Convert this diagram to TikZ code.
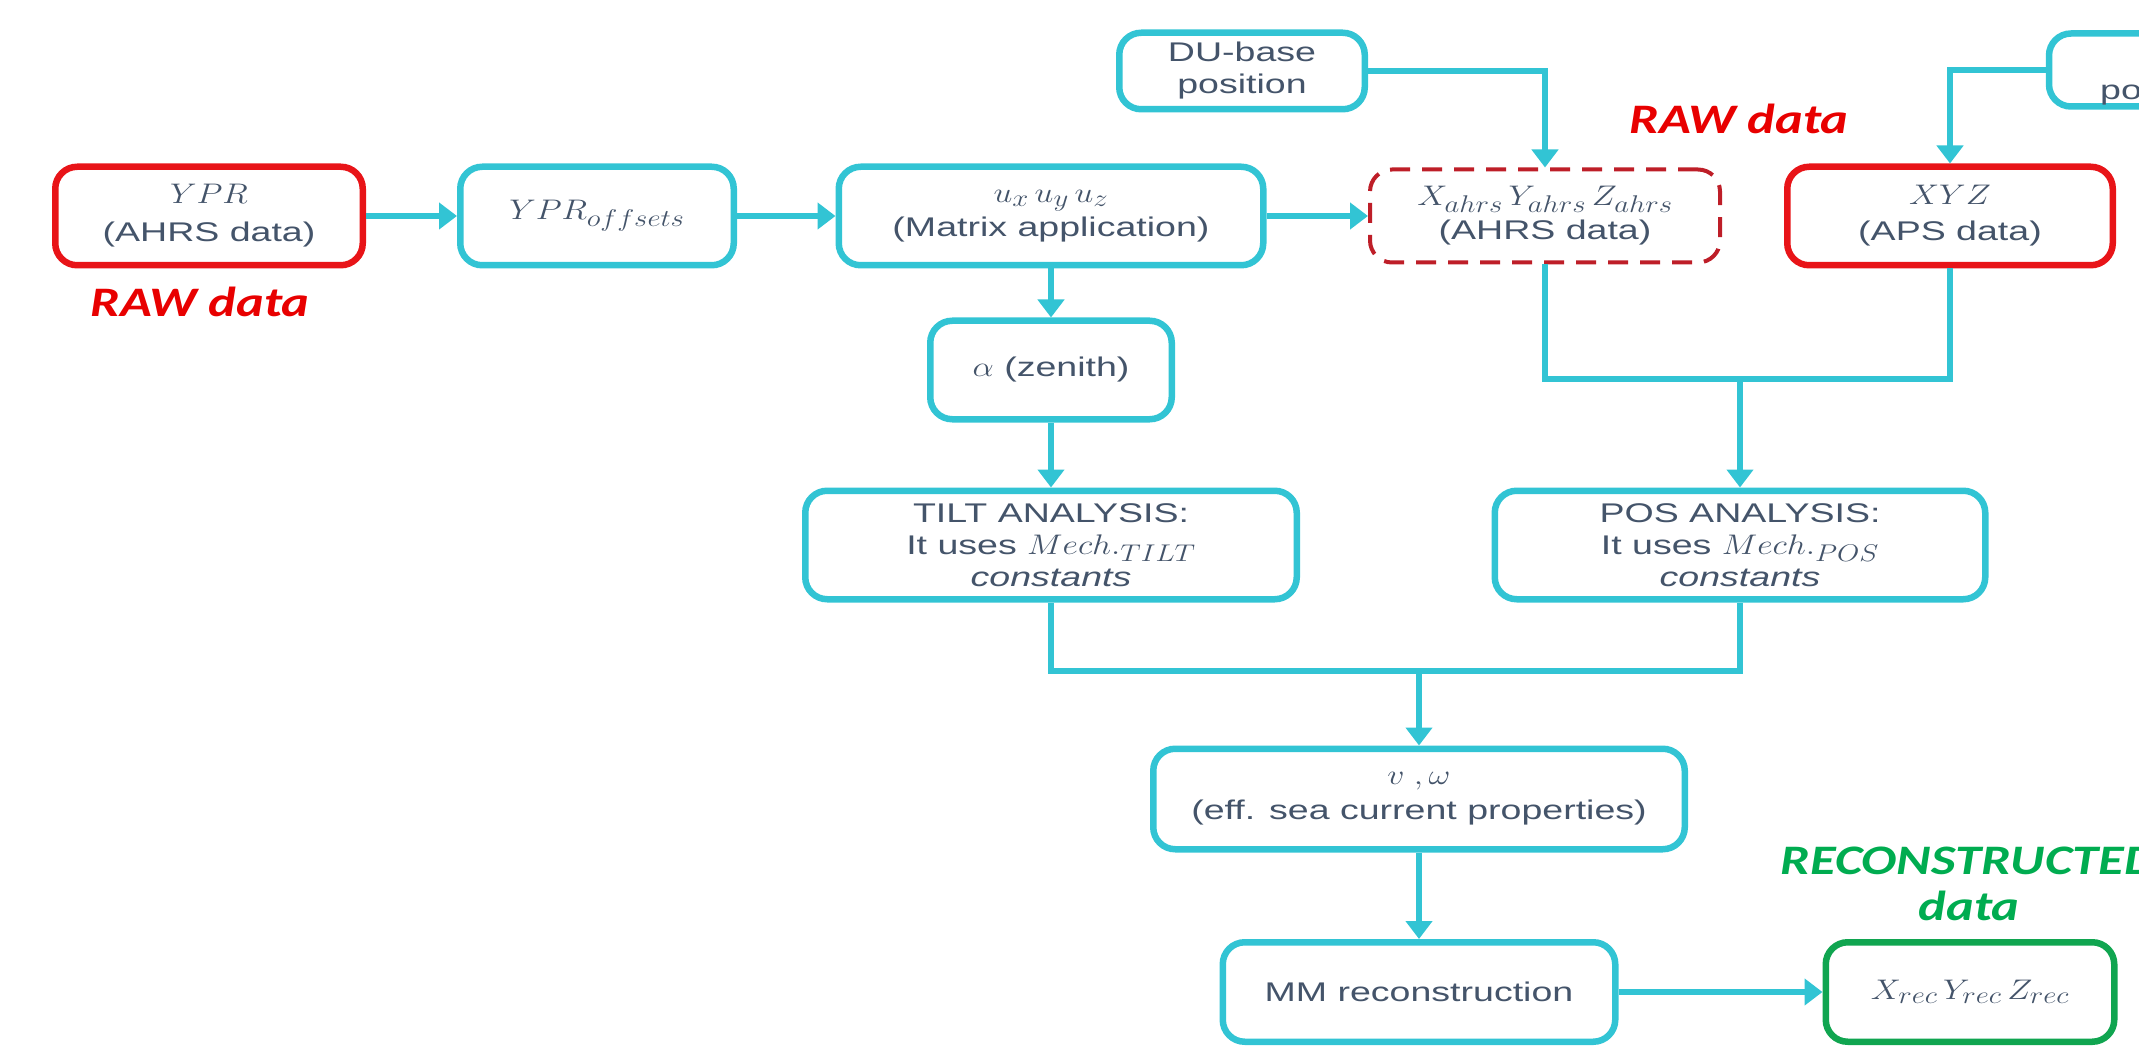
\RequirePackage{fix-cm}
\documentclass[tikz,border=0pt]{standalone}
\usepackage{fontspec}
\usepackage{graphicx}
\setmainfont[FakeStretch=1.39]{Liberation Sans}
\newfontfamily\calfont[FakeStretch=1.25]{Carlito}
\DeclareMathSizes{27}{27}{23}{18}
\usetikzlibrary{arrows.meta}
\definecolor{cyanc}{RGB}{50,196,212}
\definecolor{redb}{RGB}{232,20,24}
\definecolor{dred}{RGB}{190,30,40}
\definecolor{greenb}{RGB}{16,165,80}
\definecolor{greent}{RGB}{0,172,80}
\definecolor{txt}{RGB}{68,84,106}
\definecolor{rawred}{RGB}{232,0,0}
\newcommand\mx[1]{\scalebox{1.25}[1.05]{$#1$}}
\begin{document}
\begin{tikzpicture}[x=1pt,y=-1pt,
  box/.style={draw=cyanc,line width=6.5pt,rounded corners=22pt,fill=white,align=center,
    text=txt,inner sep=0pt,font=\fontsize{27}{36}\selectfont},
  redbox/.style={box,draw=redb},
  greenbox/.style={box,draw=greenb},
  dashbox/.style={box,draw=dred,line width=4pt,dash pattern=on 20pt off 12pt},
  conn/.style={draw=cyanc,line width=6pt},
  arr/.style={conn,-{Triangle[length=18pt,width=26pt]}},
  lbl/.style={font=\calfont\bfseries\itshape\fontsize{42}{46}\selectfont,align=center,inner sep=0pt},
]
\useasboundingbox (0,0) rectangle (2139,1048);
\clip (0,0) rectangle (2139,1048);

\node[redbox,minimum width=307.5pt,minimum height=98.5pt,font=\fontsize{27}{38}\selectfont] (ypr) at (209,216) {\mx{YPR}\\(AHRS data)};
\node[box,minimum width=273.5pt,minimum height=98.5pt] (off) at (597,216) {\mx{YPR_{offsets}}};
\node[box,minimum width=424.5pt,minimum height=98.5pt,font=\fontsize{27}{34}\selectfont] (u) at (1051,216) {\mx{u_x\,u_y\,u_z}\\(Matrix application)};
\node[dashbox,minimum width=350pt,minimum height=93pt,font=\fontsize{27}{34}\selectfont] (ahrs) at (1545,216) {\mx{X_{ahrs}\,Y_{ahrs}\,Z_{ahrs}}\\(AHRS data)};
\node[redbox,minimum width=325.5pt,minimum height=98.5pt,font=\fontsize{27}{36}\selectfont] (xyz) at (1950,216) {\mx{XYZ}\\(APS data)};
\node[box,minimum width=245.5pt,minimum height=76.5pt,font=\fontsize{27}{32}\selectfont] (du) at (1242,71) {DU-base\\position};
\node[box,minimum width=300pt,minimum height=73pt] (tr) at (2199,70) {};
\node[text=txt,anchor=base west,inner sep=0pt,font=\fontsize{27}{32}\selectfont] (trt) at (2100,100) {position};
\node[box,minimum width=241.5pt,minimum height=98.5pt] (alpha) at (1051,370) {\mx{\alpha} (zenith)};
\node[box,minimum width=491.5pt,minimum height=108.5pt,font=\fontsize{27}{32}\selectfont] (tilt) at (1051,545) {TILT ANALYSIS:\\It uses \mx{Mech._{TILT}}\\{\itshape constants}};
\node[box,minimum width=490.5pt,minimum height=108.5pt,font=\fontsize{27}{32}\selectfont] (pos) at (1740,545) {POS ANALYSIS:\\It uses \mx{Mech._{POS}}\\{\itshape constants}};
\node[box,minimum width=531.5pt,minimum height=100.5pt,font=\fontsize{27}{35}\selectfont] (v) at (1419,799) {\mx{v\;,\omega}\\(eff. sea current properties)};
\node[box,minimum width=392.5pt,minimum height=99.5pt] (mm) at (1419,992) {MM reconstruction};
\node[greenbox,minimum width=288.5pt,minimum height=99.5pt] (rec) at (1970,992) {\mx{X_{rec}\,Y_{rec}\,Z_{rec}}};

\node[lbl,text=rawred] (raw1) at (200,302) {RAW data};
\node[lbl,text=rawred] (raw2) at (1739,119) {RAW data};
\node[lbl,text=greent] (recl) at (1969,884) {RECONSTRUCTED\\data};

\coordinate (j1) at (1740,379);
\coordinate (j2) at (1419,671);

\draw[arr] (ypr) -- (off);
\draw[arr] (off) -- (u);
\draw[arr] (u.east) -- (ahrs.west);
\draw[arr] (u) -- (alpha);
\draw[arr] (alpha) -- (tilt);
\draw[arr] (du.east) -| (ahrs.north);
\draw[arr] (tr.west) -| (xyz.north);
\draw[conn] (ahrs.south) |- (j1) -| (xyz.south);
\draw[arr] (j1) -- (pos.north);
\draw[conn] (tilt.south) |- (j2) -| (pos.south);
\draw[arr] (j2) -- (v.north);
\draw[arr] (v) -- (mm);
\draw[arr] (mm) -- (rec);
\end{tikzpicture}
\end{document}
